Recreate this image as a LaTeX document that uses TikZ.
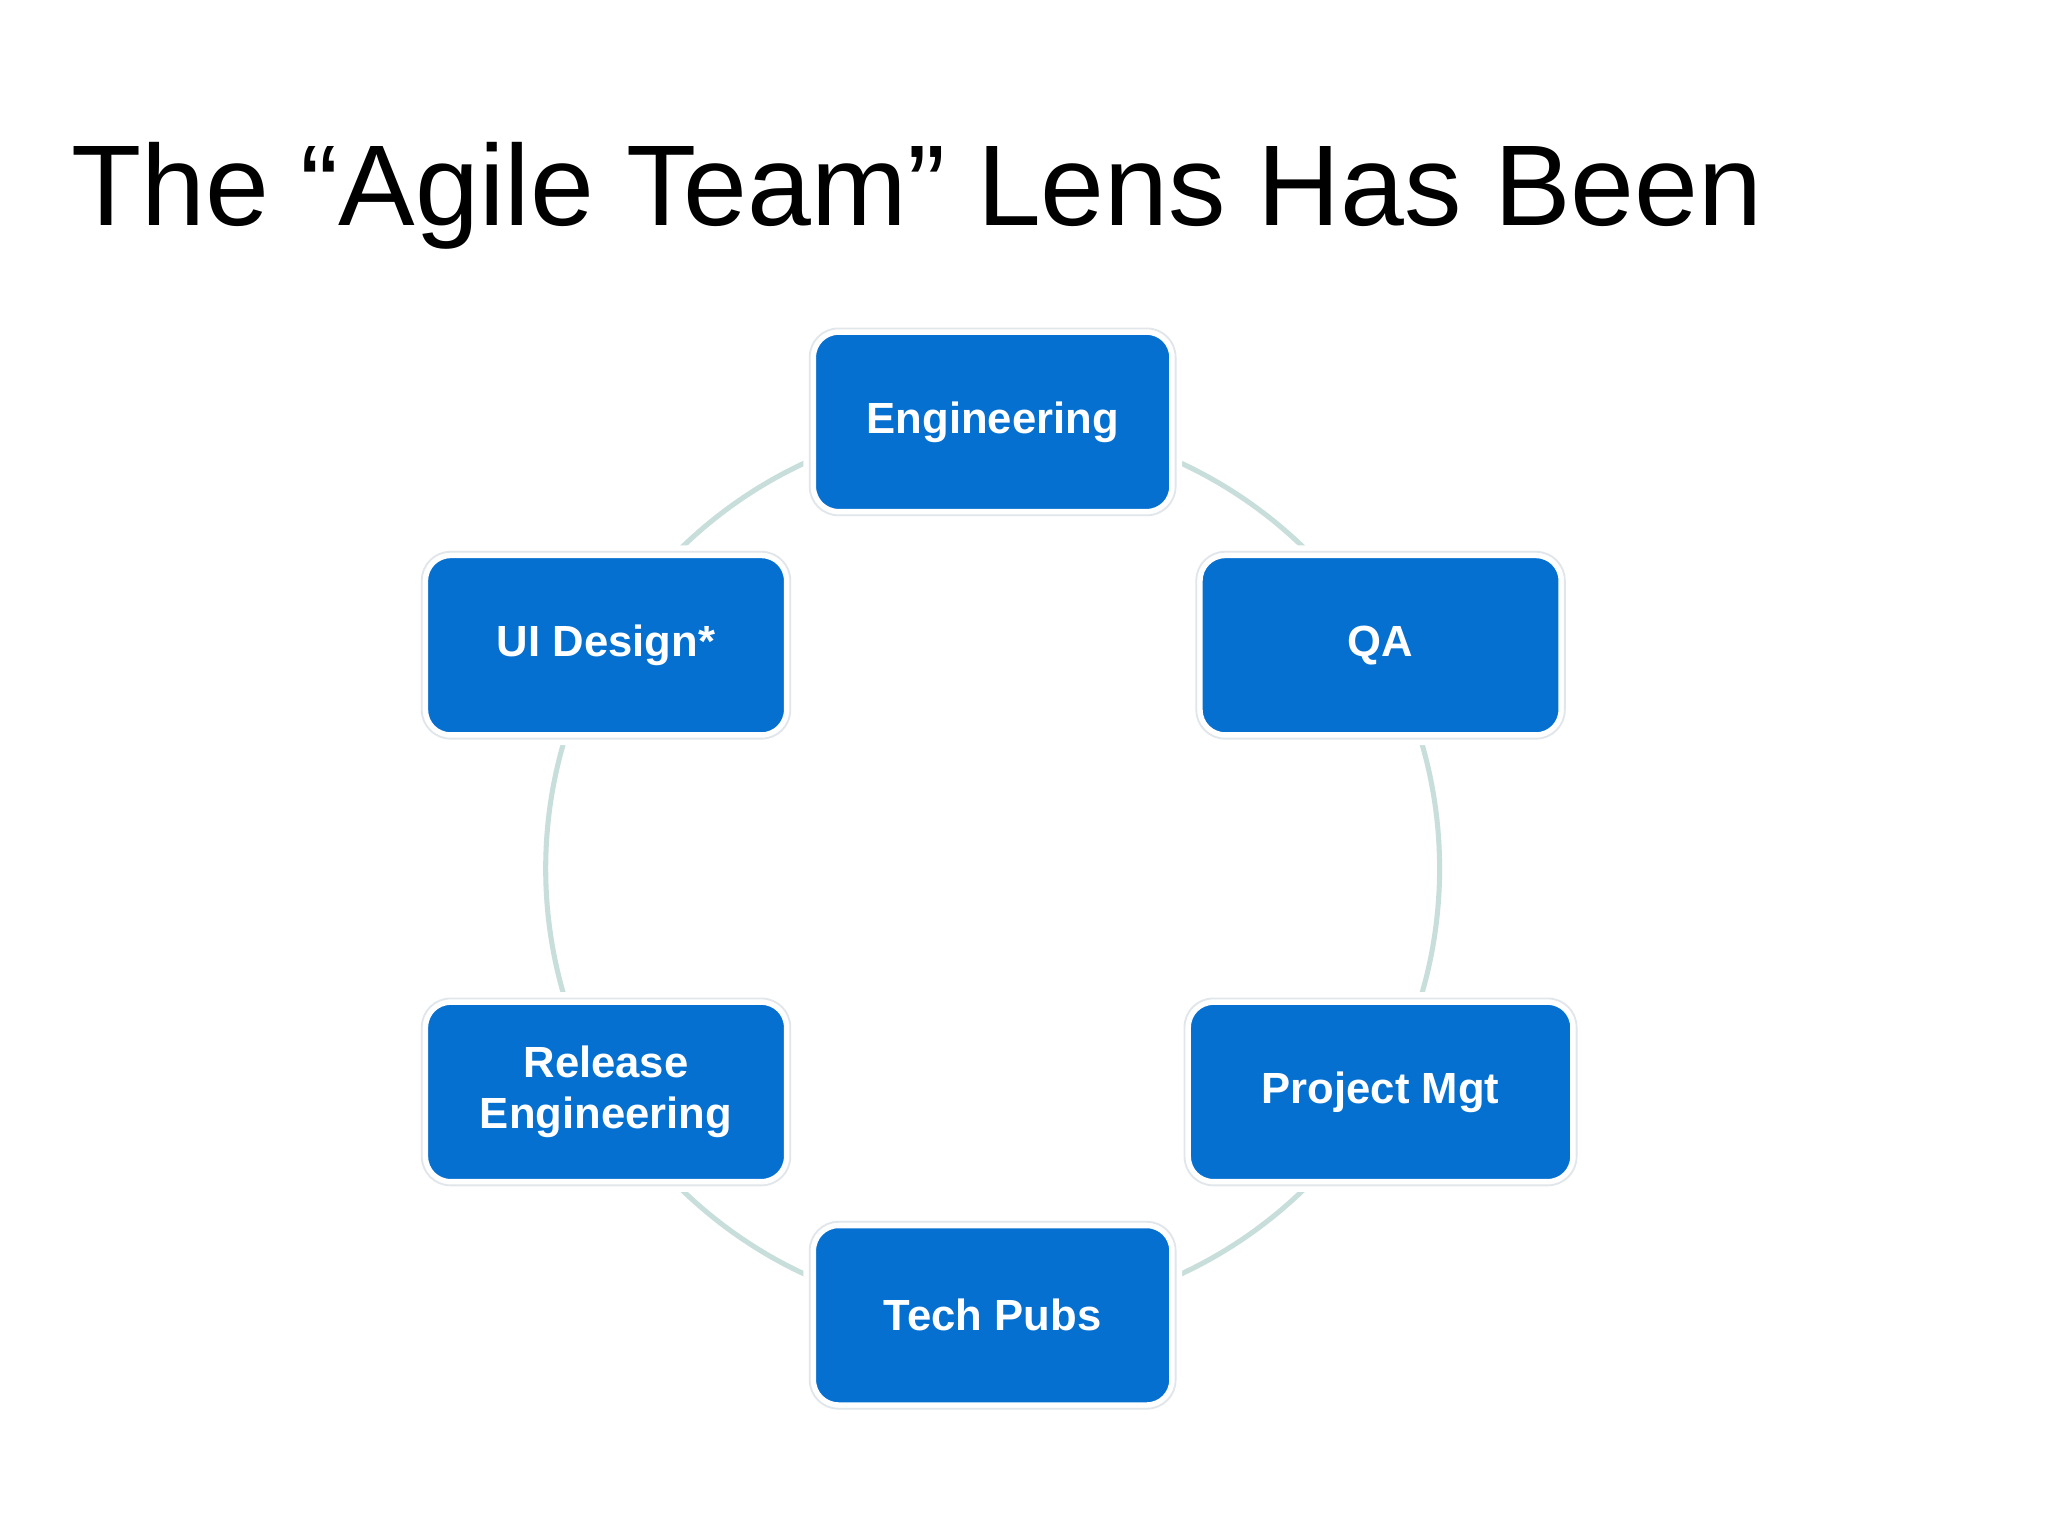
\documentclass[tikz,border=0pt]{standalone}
\usepackage{fontspec}
\setmainfont{Liberation Sans}
\begin{document}
\begin{tikzpicture}[x=0.01cm,y=-0.01cm,
  box/.style={draw=white,line width=1.2pt,fill={rgb,255:red,5;green,112;blue,208},rounded corners=0.22cm,
    text=white,font=\fontsize{9.5}{11}\selectfont\bfseries,align=center,
    minimum height=1.43cm,double={rgb,255:red,225;green,230;blue,235},double distance=0.4pt},
  ring/.style={draw={rgb,255:red,200;green,222;blue,218},line width=1.1pt}]
\useasboundingbox (0,0) rectangle (1568,1176);
\fill[white] (0,0) rectangle (1568,1176);
\node[anchor=base west,font=\fontsize{25}{30}\selectfont] (title) at (42,173) {The “Agile Team” Lens Has Been};
\draw[ring] (760,665) circle (3.42cm);
\node[box,minimum width=2.8cm] (eng) at (760,323) {Engineering};
\node[box,minimum width=2.82cm] (ui) at (464,494) {UI Design*};
\node[box,minimum width=2.82cm] (qa) at (1057,494) {QA};
\node[box,minimum width=2.82cm] (rel) at (464,836) {Release\\Engineering};
\node[box,minimum width=3.0cm] (pm) at (1057,836) {Project Mgt};
\node[box,minimum width=2.8cm] (tp) at (760,1007) {Tech Pubs};
\end{tikzpicture}
\end{document}
